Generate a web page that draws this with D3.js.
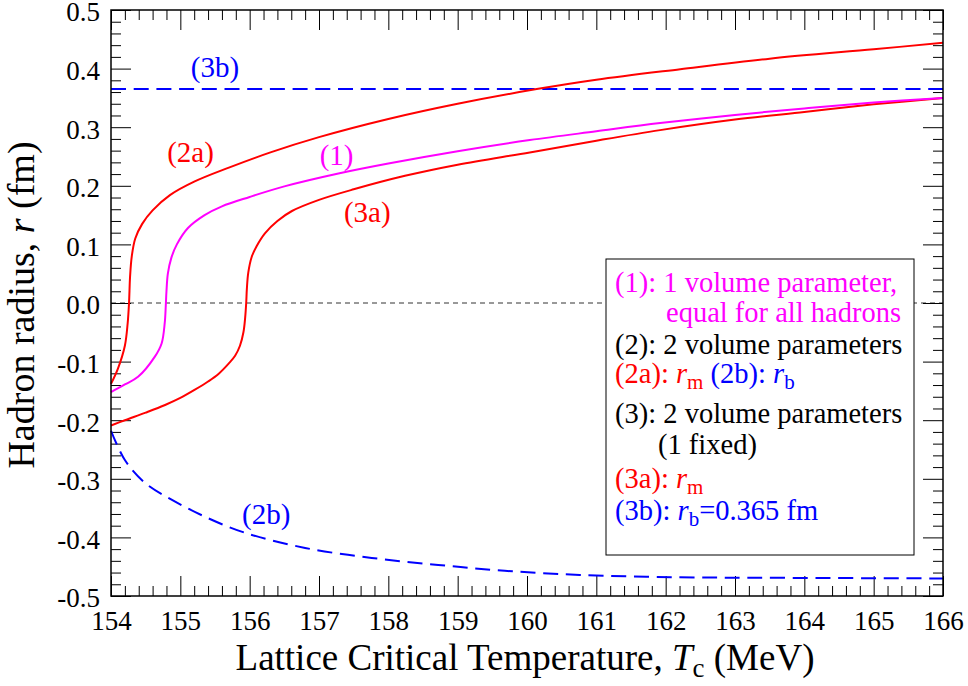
<!DOCTYPE html>
<html>
<head>
<meta charset="utf-8">
<script src="https://cdn.jsdelivr.net/npm/d3@7"></script>
<style>
  body { margin: 0; background: #fff; }
  svg text { font-family: "Liberation Serif", "Tinos", "Times New Roman", "DejaVu Serif", serif; }
</style>
</head>
<body>
<div id="chart"></div>
<script>
// tick labels
var xTicks = [154, 155, 156, 157, 158, 159, 160, 161, 162, 163, 164, 165, 166];
var yTicks = [-0.5, -0.4, -0.3, -0.2, -0.1, 0.0, 0.1, 0.2, 0.3, 0.4, 0.5];

// (1): one volume parameter
var t1 = [154.00, 154.20, 154.39, 154.63, 154.73, 154.775, 154.79, 154.80, 154.82, 154.87, 154.95, 155.11, 155.35, 155.60, 156.00, 156.50, 157.28, 158.00, 159.00, 160.04, 161.00, 161.92, 163.00, 164.00, 165.00, 166.00];
var r1 = [-0.152, -0.139, -0.126, -0.092, -0.069, -0.034, -0.005, 0.020, 0.050, 0.077, 0.100, 0.128, 0.150, 0.165, 0.181, 0.199, 0.221, 0.238, 0.259, 0.278, 0.293, 0.307, 0.321, 0.332, 0.342, 0.350];

// (2a): r_m, two volume parameters
var t2a = [154.00, 154.10, 154.20, 154.24, 154.26, 154.275, 154.30, 154.35, 154.45, 154.60, 154.85, 155.20, 155.70, 156.30, 157.00, 158.00, 159.00, 160.14, 161.00, 162.21, 163.50, 165.00, 166.00];
var r2a = [-0.138, -0.112, -0.073, -0.035, 0.000, 0.045, 0.080, 0.110, 0.135, 0.158, 0.184, 0.207, 0.231, 0.257, 0.283, 0.314, 0.340, 0.365, 0.381, 0.399, 0.417, 0.433, 0.444];

// (2b): r_b, two volume parameters
var t2b = [154.00, 154.20, 154.49, 154.88, 155.36, 155.93, 156.80, 157.76, 158.72, 159.68, 160.76, 162.20, 163.65, 166.00];
var r2b = [-0.218, -0.268, -0.307, -0.336, -0.365, -0.392, -0.418, -0.435, -0.447, -0.457, -0.464, -0.468, -0.469, -0.470];

// (3a): r_m, one parameter fixed
var t3a = [154.00, 154.20, 154.50, 154.78, 155.00, 155.21, 155.40, 155.55, 155.70, 155.79, 155.86, 155.91, 155.935, 155.95, 155.96, 155.98, 156.03, 156.10, 156.22, 156.40, 156.61, 157.00, 157.50, 158.24, 159.00, 160.04, 161.00, 161.92, 163.00, 164.00, 165.00, 166.00];
var r3a = [-0.209, -0.200, -0.187, -0.174, -0.162, -0.148, -0.134, -0.121, -0.103, -0.090, -0.073, -0.050, -0.025, 0.000, 0.025, 0.052, 0.079, 0.097, 0.119, 0.140, 0.157, 0.176, 0.194, 0.217, 0.236, 0.257, 0.277, 0.295, 0.313, 0.326, 0.339, 0.350];

// (3b): r_b fixed
var t3b = [154, 166];
var r3b = [0.365, 0.365];

// curve labels
var curveLabels = [
  { text: "(3b)", t: 155.15, r: 0.385, color: "#0000ff" },
  { text: "(2a)", t: 154.81, r: 0.241, color: "#ff0000" },
  { text: "(1)",  t: 157.01, r: 0.235, color: "#ff00ff" },
  { text: "(3a)", t: 157.36, r: 0.138, color: "#ff0000" },
  { text: "(2b)", t: 155.89, r: -0.377, color: "#0000ff" }
];

// legend lines, each a list of pieces
var legendLines = [
  [{ s: "(1): 1 volume parameter,", c: "#ff00ff" }],
  [{ s: "equal for all hadrons", c: "#ff00ff" }],
  [{ s: "(2): 2 volume parameters", c: "#000" }],
  [{ s: "(2a): ", c: "#ff0000" }, { s: "r", c: "#ff0000", it: 1 }, { s: "m", c: "#ff0000", sub: 1 },
   { s: " (2b): ", c: "#0000ff" }, { s: "r", c: "#0000ff", it: 1 }, { s: "b", c: "#0000ff", sub: 1 }],
  [{ s: "(3): 2 volume parameters", c: "#000" }],
  [{ s: "(1 fixed)", c: "#000" }],
  [{ s: "(3a): ", c: "#ff0000" }, { s: "r", c: "#ff0000", it: 1 }, { s: "m", c: "#ff0000", sub: 1 }],
  [{ s: "(3b): ", c: "#0000ff" }, { s: "r", c: "#0000ff", it: 1 }, { s: "b", c: "#0000ff", sub: 1 }, { s: "=0.365 fm", c: "#0000ff" }]
];
var legendX = [615, 666, 615, 615, 615, 658, 615, 615];
var legendY = [292, 322, 354, 383, 423, 454, 488, 520];

var serif = '"Liberation Serif", "Tinos", "Times New Roman", "DejaVu Serif", serif';

var margin = { top: 10, right: 25, bottom: 90, left: 111 },
    width = 968 - margin.left - margin.right,
    height = 686 - margin.top - margin.bottom;

var svg = d3.select("#chart").append("svg")
    .attr("width", 968)
    .attr("height", 686)
    .attr("font-family", serif);

var g = svg.append("g")
    .attr("transform", "translate(" + margin.left + "," + margin.top + ")");

var x = d3.scaleLinear().domain([154, 166]).range([0, width]);
var y = d3.scaleLinear().domain([-0.5, 0.5]).range([height, 0]);

var fmtY = function (d) { return d3.format(".1f")(d).replace("\u2212", "-"); };

var xMinor = d3.range(154, 166.001, 0.2).filter(function (d) { return Math.abs(d - Math.round(d)) > 1e-6; });
var yMinor = d3.range(-0.5, 0.5001, 0.02).filter(function (d) { return Math.abs(d * 10 - Math.round(d * 10)) > 1e-6; });

function styleAxis(sel) {
  sel.attr("font-family", serif);
  sel.select(".domain").remove();
  sel.selectAll("line").attr("stroke", "#000").attr("stroke-width", 1);
  sel.selectAll("text").attr("font-size", "27px").attr("fill", "#000");
}

// zero line
g.append("line")
    .attr("x1", 0).attr("x2", width)
    .attr("y1", y(0)).attr("y2", y(0))
    .attr("stroke", "#333").attr("stroke-width", 1)
    .attr("stroke-dasharray", "5,4");

// axes, ticks pointing inward
g.append("g").attr("transform", "translate(0," + height + ")")
    .call(d3.axisBottom(x).tickValues(xTicks).tickSize(-20).tickPadding(15).tickFormat(d3.format("d")))
    .call(styleAxis);
g.append("g").attr("transform", "translate(0," + height + ")")
    .call(d3.axisBottom(x).tickValues(xMinor).tickSize(-10).tickFormat(""))
    .call(styleAxis);
g.append("g")
    .call(d3.axisTop(x).tickValues(xTicks).tickSize(-20).tickFormat(""))
    .call(styleAxis);
g.append("g")
    .call(d3.axisTop(x).tickValues(xMinor).tickSize(-10).tickFormat(""))
    .call(styleAxis);

var yAxis = g.append("g")
    .call(d3.axisLeft(y).tickValues(yTicks).tickSize(-20).tickPadding(11).tickFormat(fmtY))
    .call(styleAxis);
yAxis.selectAll("text").attr("dy", "0.4em");
g.append("g")
    .call(d3.axisLeft(y).tickValues(yMinor).tickSize(-10).tickFormat(""))
    .call(styleAxis);
g.append("g").attr("transform", "translate(" + width + ",0)")
    .call(d3.axisRight(y).tickValues(yTicks).tickSize(-20).tickFormat(""))
    .call(styleAxis);
g.append("g").attr("transform", "translate(" + width + ",0)")
    .call(d3.axisRight(y).tickValues(yMinor).tickSize(-10).tickFormat(""))
    .call(styleAxis);

// curves
var line = d3.line()
    .x(function (d) { return x(d[0]); })
    .y(function (d) { return y(d[1]); })
    .curve(d3.curveCatmullRom.alpha(0.5));

var series = [
  { t: t3b, r: r3b, color: "#0000ff", dash: "15,7.7" },
  { t: t2b, r: r2b, color: "#0000ff", dash: "15,7.7" },
  { t: t3a, r: r3a, color: "#ff0000", dash: null },
  { t: t1,  r: r1,  color: "#ff00ff", dash: null },
  { t: t2a, r: r2a, color: "#ff0000", dash: null }
];

series.forEach(function (s) {
  g.append("path")
    .datum(d3.zip(s.t, s.r))
    .attr("fill", "none")
    .attr("stroke", s.color)
    .attr("stroke-width", 2)
    .attr("stroke-dasharray", s.dash)
    .attr("d", line);
});

// frame
g.append("rect")
    .attr("width", width).attr("height", height)
    .attr("fill", "none").attr("stroke", "#000").attr("stroke-width", 1.5);

// curve labels
g.selectAll(".clab").data(curveLabels).enter().append("text")
    .attr("class", "clab")
    .attr("x", function (d) { return x(d.t); })
    .attr("y", function (d) { return y(d.r); })
    .attr("fill", function (d) { return d.color; })
    .attr("font-size", "29px")
    .text(function (d) { return d.text; });

// legend
svg.append("rect")
    .attr("x", 606).attr("y", 259).attr("width", 308).attr("height", 296)
    .attr("fill", "#fff").attr("stroke", "#000").attr("stroke-width", 1);

legendLines.forEach(function (pieces, i) {
  var txt = svg.append("text")
      .attr("x", legendX[i]).attr("y", legendY[i])
      .attr("font-size", "28.5px");
  var down = false;
  pieces.forEach(function (p) {
    var ts = txt.append("tspan").attr("fill", p.c).text(p.s);
    if (p.it) ts.attr("font-style", "italic");
    if (p.sub) {
      ts.attr("font-size", "21px").attr("dy", 6);
      down = true;
    } else if (down) {
      ts.attr("dy", -6);
      down = false;
    }
  });
});

// axis titles
var xt = svg.append("text")
    .attr("x", 525).attr("y", 670)
    .attr("text-anchor", "middle")
    .attr("font-size", "37px");
xt.append("tspan").text("Lattice Critical Temperature, ");
xt.append("tspan").attr("font-style", "italic").text("T");
xt.append("tspan").attr("font-size", "27px").attr("dy", 7).text("c");
xt.append("tspan").attr("dy", -7).text(" (MeV)");

var yt = svg.append("text")
    .attr("transform", "translate(34,305) rotate(-90)")
    .attr("text-anchor", "middle")
    .attr("font-size", "38px");
yt.append("tspan").text("Hadron radius, ");
yt.append("tspan").attr("font-style", "italic").text("r");
yt.append("tspan").text(" (fm)");
</script>
</body>
</html>
